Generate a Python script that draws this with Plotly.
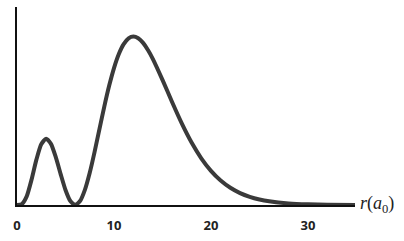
import plotly.graph_objects as go

# radial distance r (a0) and probability (arbitrary units)
r_vals = [0, 0.5, 1, 1.5, 2, 2.5, 3, 3.5, 4, 4.5, 5, 5.5, 6, 6.5, 7, 7.5, 8, 8.5,
          9, 9.5, 10, 10.5, 11, 11.5, 12, 12.5, 13, 13.5, 14, 15, 16, 17, 18, 19,
          20, 21, 22, 23, 24, 25, 26, 28, 30, 32, 35]
p_vals = [0, 0.038, 0.357, 1.048, 1.875, 2.511, 2.74, 2.527, 1.976, 1.276, 0.619,
          0.162, 0, 0.163, 0.627, 1.333, 2.197, 3.136, 4.066, 4.923, 5.657, 6.236,
          6.644, 6.883, 6.957, 6.888, 6.698, 6.405, 6.041, 5.171, 4.243, 3.360,
          2.580, 1.930, 1.411, 1.011, 0.711, 0.492, 0.336, 0.226, 0.151, 0.065,
          0.027, 0.011, 0.003]
tick_vals = [0, 10, 20, 30]
tick_text = ["0", "10", "20", "30"]
axis_label = "<i>r</i>(<i>a</i><sub>0</sub>)"

fig = go.Figure()
fig.add_trace(go.Scatter(x=r_vals, y=p_vals, mode="lines",
                         line=dict(color="#3a3a3a", width=4, shape="spline", smoothing=0.6),
                         hoverinfo="skip", cliponaxis=False))

fig.update_layout(
    width=404, height=241,
    margin=dict(l=17, r=49, t=7, b=33),
    paper_bgcolor="white", plot_bgcolor="white",
    showlegend=False,
    xaxis=dict(range=[0, 34.85], showgrid=False, zeroline=False,
               showline=True, linecolor="#111", linewidth=1.5,
               tickvals=tick_vals, ticktext=tick_text, ticks="",
               ticklabelstandoff=8,
               tickfont=dict(family="Open Sans", size=13, color="#222", weight="bold")),
    yaxis=dict(range=[0, 8.18], showgrid=False, zeroline=False,
               showline=True, linecolor="#111", linewidth=1.5,
               showticklabels=False, ticks=""),
    annotations=[dict(x=1, xref="paper", xshift=3, y=0, yref="y", yshift=1,
                      text=axis_label, showarrow=False, xanchor="left", yanchor="middle",
                      font=dict(family="Liberation Serif", size=18, color="#222"))],
)

fig.write_html("out.html")
